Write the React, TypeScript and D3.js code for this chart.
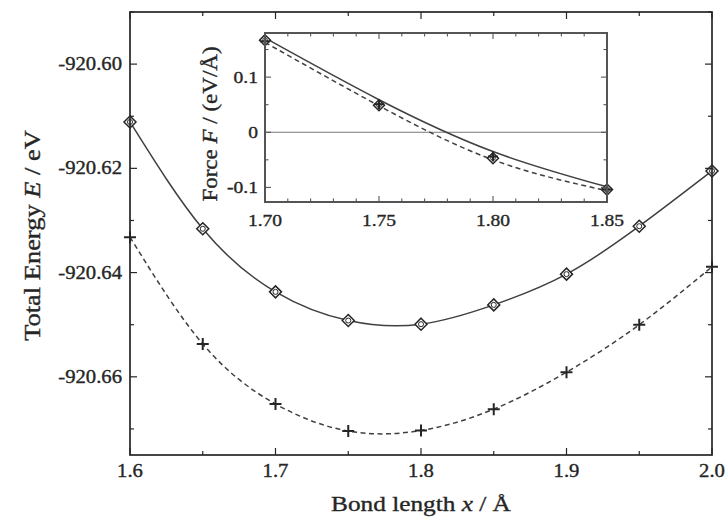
import React from "react";
import * as d3 from "d3";

// Total energy vs bond length (two calculation schemes)
const bondLength = [1.6, 1.65, 1.7, 1.75, 1.8, 1.85, 1.9, 1.95, 2.0];
const energySolid = [-920.6111, -920.6316, -920.6437, -920.6492, -920.6499, -920.6462, -920.6403, -920.6311, -920.6205];
const energyDashed = [-920.6332, -920.6537, -920.6652, -920.6704, -920.6703, -920.6662, -920.6591, -920.65, -920.6389];

const energyTicks = [-920.6, -920.62, -920.64, -920.66];
const energyTickLabels = ["-920.60", "-920.62", "-920.64", "-920.66"];
const lengthTicks = [1.6, 1.7, 1.8, 1.9, 2.0];
const lengthTickLabels = ["1.6", "1.7", "1.8", "1.9", "2.0"];

// Inset: force vs bond length
const insetLength = [1.7, 1.75, 1.8, 1.85];
const forceSolidLine = [0.171, 0.059, -0.035, -0.099];
const forceDashedLine = [0.163, 0.048, -0.05, -0.106];
const forceDiamonds = [0.167, 0.049, -0.047, -0.104];
const forceCrosses = [0.165, 0.051, -0.044, -0.104];

const forceTicks = [0.1, 0, -0.1];
const forceTickLabels = ["0.1", "0", "-0.1"];
const insetLengthTicks = [1.7, 1.75, 1.8, 1.85];
const insetLengthTickLabels = ["1.70", "1.75", "1.80", "1.85"];

const FONT = "'Liberation Serif', 'Times New Roman', serif";
const STRETCH = 1.15;
const INK = "#262626";
const LINE = "#404040";

type TxtProps = {
  x: number;
  y: number;
  size: number;
  anchor?: "start" | "middle" | "end";
  rotate?: number;
  children: React.ReactNode;
};

function Txt({ x, y, size, anchor = "middle", rotate = 0, children }: TxtProps) {
  return (
    <text
      transform={`translate(${x},${y}) rotate(${rotate}) scale(${STRETCH},1)`}
      fontFamily={FONT}
      fontSize={size}
      textAnchor={anchor}
      fill={INK}
      stroke={INK}
      strokeWidth={0.35}
    >
      {children}
    </text>
  );
}

function Diamond({ cx, cy, r = 6 }: { cx: number; cy: number; r?: number }) {
  return (
    <g>
      <path
        d={`M${cx},${cy - r}L${cx + r},${cy}L${cx},${cy + r}L${cx - r},${cy}Z`}
        fill="white"
        stroke={INK}
        strokeWidth={1.5}
      />
      <circle cx={cx} cy={cy} r={r * 0.42} fill="none" stroke={INK} strokeWidth={1} />
    </g>
  );
}

function Cross({ cx, cy, r = 6 }: { cx: number; cy: number; r?: number }) {
  return (
    <path
      d={`M${cx - r},${cy}H${cx + r}M${cx},${cy - r}V${cy + r}`}
      stroke={INK}
      strokeWidth={2}
    />
  );
}

export default function App() {
  // main frame
  const L = 130, R = 712, T = 12, B = 455;
  const x = d3.scaleLinear().domain([1.6, 2.0]).range([L, R]);
  const y = d3.scaleLinear().domain([-920.675, -920.59]).range([B, T]);

  // inset frame
  const iL = 265, iR = 607, iT = 33, iB = 202;
  const ix = d3.scaleLinear().domain([1.7, 1.85]).range([iL, iR]);
  const iy = d3.scaleLinear().domain([-0.1265, 0.18]).range([iB, iT]);

  const curve = d3.curveNatural;
  const mainLine = d3
    .line<[number, number]>()
    .x((d) => x(d[0]))
    .y((d) => y(d[1]))
    .curve(curve);
  const insetLine = d3
    .line<[number, number]>()
    .x((d) => ix(d[0]))
    .y((d) => iy(d[1]))
    .curve(curve);

  const solidPath = mainLine(bondLength.map((b, i) => [b, energySolid[i]])) as string;
  const dashedPath = mainLine(bondLength.map((b, i) => [b, energyDashed[i]])) as string;
  const iSolidPath = insetLine(insetLength.map((b, i) => [b, forceSolidLine[i]])) as string;
  const iDashedPath = insetLine(insetLength.map((b, i) => [b, forceDashedLine[i]])) as string;

  // tick positions
  const xMinor = d3.range(0, 9).map((i) => 1.6 + i * 0.05);
  const yMinor = d3.range(0, 9).map((i) => -920.67 + i * 0.01);
  const ixMinor = d3.range(0, 16).map((i) => 1.7 + i * 0.01);
  const iyMinor = [-0.1, -0.05, 0, 0.05, 0.1, 0.15];

  const near = (arr: number[], v: number) => arr.some((t) => Math.abs(t - v) < 1e-6);

  return (
    <svg
      width={728}
      height={521}
      style={{ position: "absolute", left: 0, top: 0, background: "white" }}
    >
      <rect width={728} height={521} fill="white" />

      {/* main curves */}
      <path d={solidPath} fill="none" stroke={LINE} strokeWidth={1.5} />
      <path d={dashedPath} fill="none" stroke={LINE} strokeWidth={1.5} strokeDasharray="5,3.5" />
      {bondLength.map((b, i) => (
        <Diamond key={`d${i}`} cx={x(b)} cy={y(energySolid[i])} />
      ))}
      {bondLength.map((b, i) => (
        <Cross key={`c${i}`} cx={x(b)} cy={y(energyDashed[i])} />
      ))}

      {/* main frame and ticks */}
      <rect x={L} y={T} width={R - L} height={B - T} fill="none" stroke={INK} strokeWidth={1.7} />
      {xMinor.map((v, i) => {
        const len = near(lengthTicks, v) ? 7 : 4;
        return (
          <g key={`xt${i}`} stroke={INK} strokeWidth={1.2}>
            <line x1={x(v)} x2={x(v)} y1={B} y2={B - len} />
            <line x1={x(v)} x2={x(v)} y1={T} y2={T + len} />
          </g>
        );
      })}
      {yMinor.map((v, i) => {
        const len = near(energyTicks, v) ? 7 : 4;
        return (
          <g key={`yt${i}`} stroke={INK} strokeWidth={1.2}>
            <line x1={L} x2={L + len} y1={y(v)} y2={y(v)} />
            <line x1={R} x2={R - len} y1={y(v)} y2={y(v)} />
          </g>
        );
      })}
      {energyTicks.map((v, i) => (
        <Txt key={`yl${i}`} x={L - 8} y={y(v) + 6} size={18} anchor="end">
          {energyTickLabels[i]}
        </Txt>
      ))}
      {lengthTicks.map((v, i) => (
        <Txt key={`xl${i}`} x={x(v)} y={477} size={18}>
          {lengthTickLabels[i]}
        </Txt>
      ))}
      <Txt x={(L + R) / 2} y={511} size={22}>
        Bond length <tspan fontStyle="italic">x</tspan> / Å
      </Txt>
      <Txt x={40} y={(T + B) / 2 + 2} size={23} rotate={-90}>
        Total Energy <tspan fontStyle="italic">E</tspan> / eV
      </Txt>

      {/* inset */}
      <rect x={iL} y={iT} width={iR - iL} height={iB - iT} fill="white" />
      <line x1={iL} x2={iR} y1={iy(0)} y2={iy(0)} stroke="#777" strokeWidth={1.2} />
      <path d={iSolidPath} fill="none" stroke={LINE} strokeWidth={1.5} />
      <path d={iDashedPath} fill="none" stroke={LINE} strokeWidth={1.5} strokeDasharray="5,3.5" />
      {insetLength.map((b, i) => (
        <Diamond key={`id${i}`} cx={ix(b)} cy={iy(forceDiamonds[i])} r={5.5} />
      ))}
      {insetLength.map((b, i) => (
        <Cross key={`ic${i}`} cx={ix(b)} cy={iy(forceCrosses[i])} r={5} />
      ))}
      <rect x={iL} y={iT} width={iR - iL} height={iB - iT} fill="none" stroke="#555" strokeWidth={2} />
      {ixMinor.map((v, i) => {
        const len = near(insetLengthTicks, v) ? 6 : 3.5;
        return (
          <g key={`ixt${i}`} stroke="#555" strokeWidth={1.1}>
            <line x1={ix(v)} x2={ix(v)} y1={iB} y2={iB - len} />
            <line x1={ix(v)} x2={ix(v)} y1={iT} y2={iT + len} />
          </g>
        );
      })}
      {iyMinor.map((v, i) => {
        const len = near(forceTicks, v) ? 6 : 3.5;
        return (
          <g key={`iyt${i}`} stroke="#555" strokeWidth={1.1}>
            <line x1={iL} x2={iL + len} y1={iy(v)} y2={iy(v)} />
            <line x1={iR} x2={iR - len} y1={iy(v)} y2={iy(v)} />
          </g>
        );
      })}
      {forceTicks.map((v, i) => (
        <Txt key={`iyl${i}`} x={iL - 7} y={iy(v) + 6} size={17} anchor="end">
          {forceTickLabels[i]}
        </Txt>
      ))}
      {insetLengthTicks.map((v, i) => (
        <Txt key={`ixl${i}`} x={ix(v)} y={226} size={17}>
          {insetLengthTickLabels[i]}
        </Txt>
      ))}
      <Txt x={217} y={124} size={20} rotate={-90}>
        Force <tspan fontStyle="italic">F</tspan> / (eV/Å)
      </Txt>
    </svg>
  );
}
